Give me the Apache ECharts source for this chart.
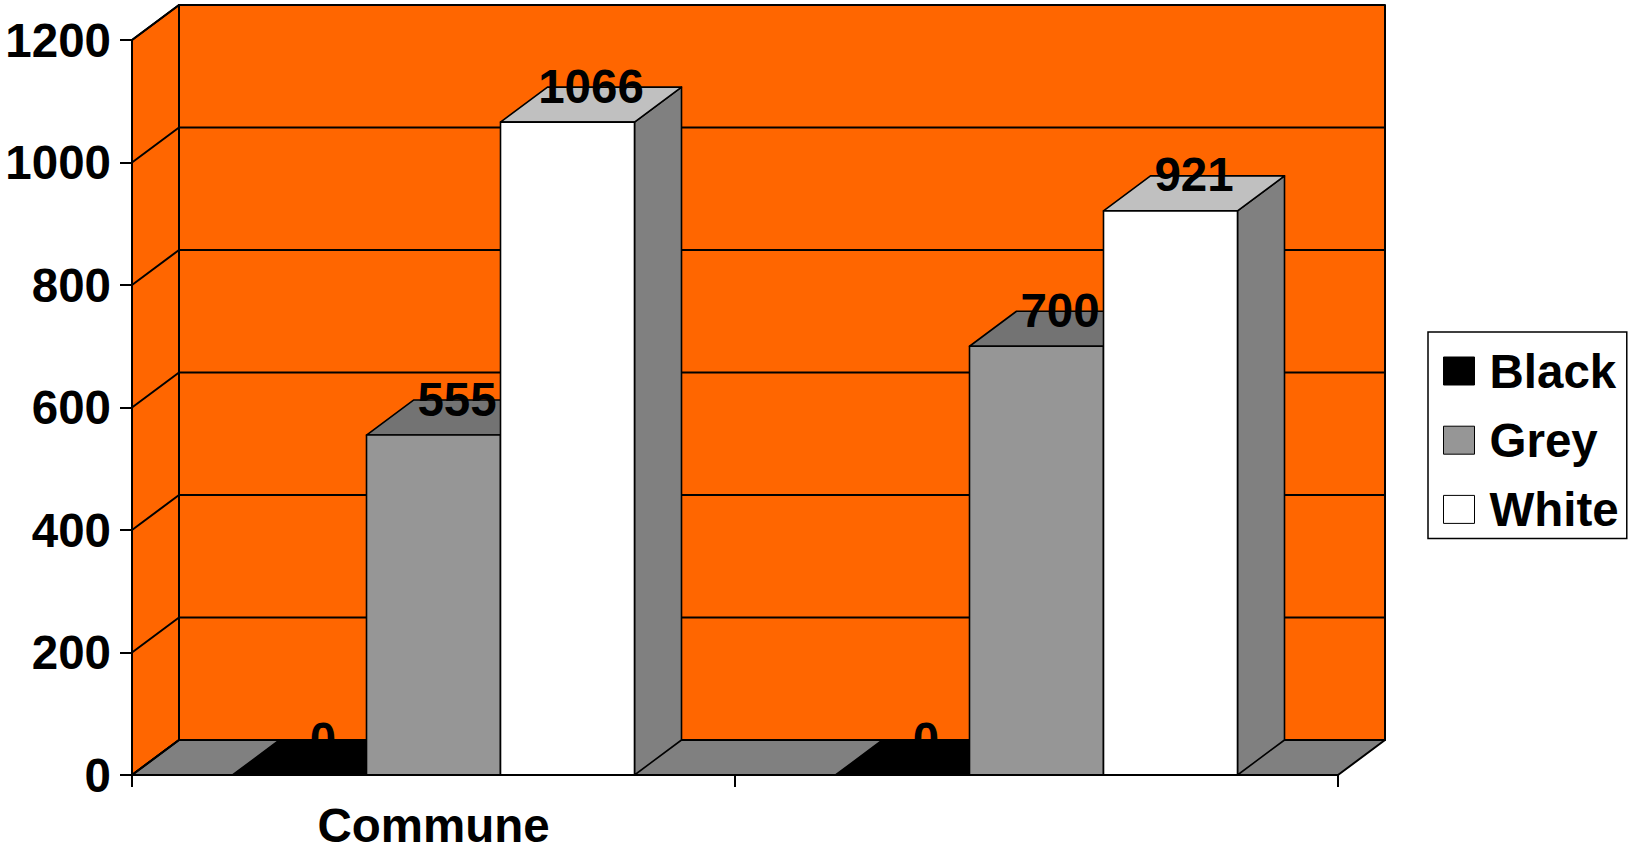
<!DOCTYPE html>
<html><head><meta charset="utf-8">
<script src="https://cdn.jsdelivr.net/npm/echarts@6/dist/echarts.min.js"></script>
<style>html,body{margin:0;padding:0;background:#fff}#c{width:1631px;height:850px}</style>
</head><body><div id="c"></div>
<script>
const categories = ['Commune', ''];
const seriesNames = ['Black', 'Grey', 'White'];
const blackValues = [0, 0];
const greyValues = [555, 700];
const whiteValues = [1066, 921];
const yMin = 0, yMax = 1200, yInterval = 200;
const yTickValues = [0, 200, 400, 600, 800, 1000, 1200];

const DX = 47, DY = 35, GAP = 1.5;
const FS = 47.5;
const FONT = '"Liberation Sans", Arial, Helvetica, sans-serif';
const faceColors = {
  Black: {front: '#000000', top: '#000000', side: '#000000'},
  Grey: {front: '#969696', top: '#737373', side: '#4b4b4b'},
  White: {front: '#ffffff', top: '#c0c0c0', side: '#808080'}
};
const LINE = {stroke: '#000', lineWidth: 2, lineJoin: 'round'};

function wallsRenderer(params, api) {
  const cs = params.coordSys;
  const L = cs.x, R = cs.x + cs.width;
  const T = api.coord([0, yMax])[1], B = api.coord([0, yMin])[1];
  return {type: 'group', children: [
    {type: 'polygon', shape: {points: [[L + DX, T - DY], [R + DX, T - DY], [R + DX, B - DY], [L + DX, B - DY]]}, style: Object.assign({fill: '#FF6600'}, LINE)},
    {type: 'polygon', shape: {points: [[L, T], [L + DX, T - DY], [L + DX, B - DY], [L, B]]}, style: Object.assign({fill: '#FF6600'}, LINE)},
    {type: 'polygon', shape: {points: [[L, B], [R, B], [R + DX, B - DY], [L + DX, B - DY]]}, style: Object.assign({fill: '#808080'}, LINE)}
  ]};
}

function gridRenderer(params, api) {
  const cs = params.coordSys;
  const L = cs.x, R = cs.x + cs.width;
  const y = api.coord([0, api.value(0)])[1];
  return {type: 'polyline', shape: {points: [[L, y], [L + DX, y - DY], [R + DX, y - DY]]}, style: Object.assign({fill: null}, LINE)};
}

function barRenderer(k, name) {
  const c = faceColors[name];
  return function (params, api) {
    const ci = api.value(0), v = api.value(1);
    const p0 = api.coord([ci, 0]);
    const p1 = api.coord([ci, v]);
    const bandW = api.size([1, 0])[0];
    const barW = bandW / (seriesNames.length + GAP);
    const x0 = p0[0] - bandW / 2 + (GAP / 2 + k) * barW, x1 = x0 + barW;
    const yb = p0[1], yt = p1[1];
    const st = {stroke: '#000', lineWidth: 1.6, lineJoin: 'round'};
    return {type: 'group', children: [
      {type: 'polygon', shape: {points: [[x1, yb], [x1 + DX, yb - DY], [x1 + DX, yt - DY], [x1, yt]]}, style: Object.assign({fill: c.side}, st)},
      {type: 'polygon', shape: {points: [[x0, yt], [x0 + DX, yt - DY], [x1 + DX, yt - DY], [x1, yt]]}, style: Object.assign({fill: c.top}, st)},
      {type: 'rect', shape: {x: x0, y: yt, width: barW, height: yb - yt}, style: Object.assign({fill: c.front}, st)},
      {type: 'text', x: (x0 + x1) / 2 + DX / 2, y: yt - DY - 1, z2: 10,
        style: {text: String(v), fill: '#000', font: 'bold ' + FS + 'px ' + FONT,
          align: 'center', verticalAlign: 'middle', textAlign: 'center', textVerticalAlign: 'middle'}}
    ]};
  };
}

const valuesByName = {Black: blackValues, Grey: greyValues, White: whiteValues};
const barSeries = seriesNames.map((name, k) => ({
  name: name,
  type: 'custom',
  clip: false,
  z: 5,
  itemStyle: {color: faceColors[name].front, borderColor: '#000', borderWidth: 1},
  renderItem: barRenderer(k, name),
  data: valuesByName[name].map((v, i) => [i, v])
}));

const chart = echarts.init(document.getElementById('c'), null, {renderer: 'svg'});
chart.setOption({
  animation: false,
  backgroundColor: '#ffffff',
  grid: {left: 132, right: 293, top: 40, bottom: 75, containLabel: false, outerBoundsMode: 'none'},
  legend: {
    orient: 'vertical', left: 1428, top: 332,
    padding: [15, 8, 5, 15],
    borderColor: '#000', borderWidth: 1.5, backgroundColor: '#fff',
    itemWidth: 31, itemHeight: 28, itemGap: 21.2,
    icon: 'rect',
    textStyle: {fontSize: FS, fontWeight: 'bold', color: '#000', fontFamily: FONT, lineHeight: 46, padding: [0, 0, 0, 10]},
    data: seriesNames.map(n => ({name: n, icon: 'rect', itemStyle: {color: faceColors[n].front, borderColor: '#000', borderWidth: 1}}))
  },
  xAxis: {
    type: 'category', data: categories, z: 10,
    axisLine: {show: true, lineStyle: {color: '#000', width: 2}},
    axisTick: {show: true, length: 12, lineStyle: {color: '#000', width: 2}},
    axisLabel: {fontSize: FS, fontWeight: 'bold', color: '#000', fontFamily: FONT, margin: 26},
    splitLine: {show: false}
  },
  yAxis: {
    type: 'value', min: yMin, max: yMax, interval: yInterval, z: 10,
    axisLine: {show: true, lineStyle: {color: '#000', width: 2}},
    axisTick: {show: true, length: 12, lineStyle: {color: '#000', width: 2}},
    axisLabel: {fontSize: FS, fontWeight: 'bold', color: '#000', fontFamily: FONT, margin: 21,
      formatter: v => String(v)},
    splitLine: {show: false}
  },
  series: [
    {type: 'custom', name: '_walls', clip: false, z: 1, silent: true, renderItem: wallsRenderer, data: [[0, 0]], encode: {x: 0, y: 1}},
    {type: 'custom', name: '_grid', clip: false, z: 2, silent: true, renderItem: gridRenderer, data: yTickValues.map(v => [v]), encode: {y: 0}}
  ].concat(barSeries)
});
</script></body></html>
